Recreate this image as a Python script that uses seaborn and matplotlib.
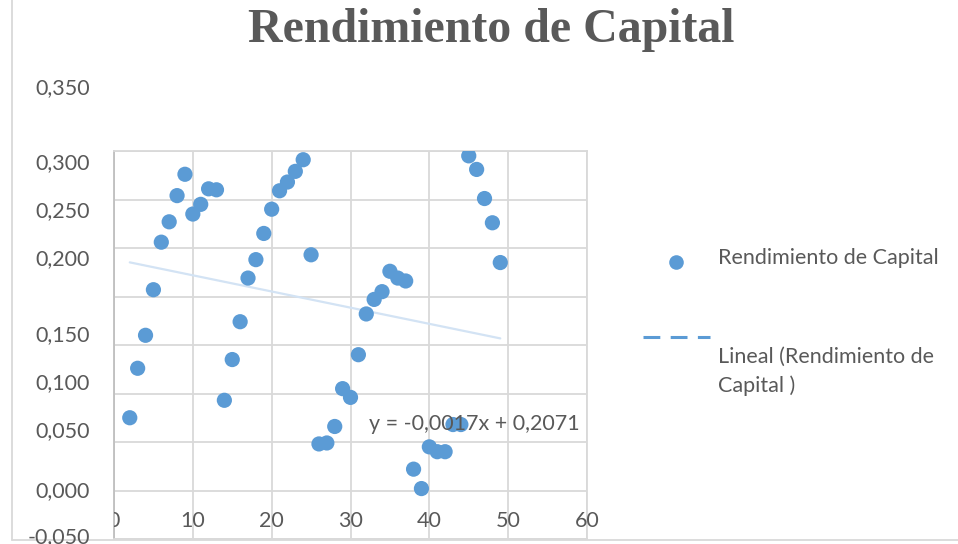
import numpy as np
import pandas as pd
import matplotlib
matplotlib.use('Agg')
import matplotlib.pyplot as plt
from matplotlib.lines import Line2D
from matplotlib.transforms import Bbox, TransformedBbox
import seaborn as sns

# ── data ─────────────────────────────────────────────────────────
periodo = list(range(2, 50))
rendimiento = [
    0.075, 0.126, 0.160, 0.207, 0.256, 0.277, 0.304, 0.326, 0.285, 0.295,
    0.311, 0.310, 0.093, 0.135, 0.174, 0.219, 0.238, 0.265, 0.290, 0.309,
    0.318, 0.329, 0.341, 0.243, 0.048, 0.049, 0.066, 0.105, 0.096, 0.140,
    0.182, 0.197, 0.205, 0.226, 0.219, 0.216, 0.022, 0.002, 0.045, 0.040,
    0.040, 0.068, 0.068, 0.345, 0.331, 0.301, 0.276, 0.235,
]
x_ticks = [0, 10, 20, 30, 40, 50, 60]
y_grid = [-0.05, 0.0, 0.05, 0.10, 0.15, 0.20, 0.25, 0.30, 0.35]
y_labels = ['0,350', '0,300', '0,250', '0,200', '0,150', '0,100', '0,050', '0,000', '-0,050']
serie = 'Rendimiento de Capital'
tendencia = 'Lineal (Rendimiento de\nCapital )'
ecuacion = 'y = -0,0017x + 0,2071'

df = pd.DataFrame({'periodo': periodo, 'rendimiento': rendimiento})

# ── style ────────────────────────────────────────────────────────
sns.set_style('white')
plt.rcParams['font.family'] = ['Lato', 'DejaVu Sans']
BLUE = '#5B9BD5'
GREY_TXT = '#595959'
GRID = '#D9D9D9'
FS = 15.5
W, H = 958, 544


def fx(px):
    return px / W


def fy(py):
    return 1 - py / H


fig = plt.figure(figsize=(W / 100, H / 100), dpi=100)
ax = fig.add_axes([fx(114), fy(539), (587 - 114) / W, (539 - 151) / H])

sns.regplot(
    data=df, x='periodo', y='rendimiento', ax=ax, ci=None,
    scatter_kws={'s': 120, 'color': BLUE, 'edgecolor': 'none', 'alpha': 1, 'zorder': 3},
    line_kws={'color': '#D3E3F4', 'lw': 1.6, 'zorder': 2},
)

ax.set_xlim(0, 60)
ax.set_ylim(-0.05, 0.35)
ax.set_xticks(x_ticks)
ax.set_yticks(y_grid)
ax.set_xticklabels([])
ax.set_yticklabels([])
ax.tick_params(length=0)
ax.set_xlabel('')
ax.set_ylabel('')
ax.grid(True, color=GRID, lw=1.3)
ax.set_axisbelow(True)
for side in ['top', 'right', 'bottom']:
    ax.spines[side].set_color(GRID)
    ax.spines[side].set_linewidth(1.3)
ax.spines['left'].set_color('#BFBFBF')
ax.spines['left'].set_linewidth(1.3)

# x labels drawn inside the plot area, like the original
clip = TransformedBbox(Bbox.from_extents(fx(114), 0, 1, 1), fig.transFigure)
for i, xv in enumerate(x_ticks):
    t = ax.text(xv, -0.05 + (539 - 521) / 970, str(xv), ha='center', va='center',
                fontsize=FS, color=GREY_TXT, clip_on=False)
    if i == 0:
        t.set_clip_on(True)
        t.set_clip_box(clip)

# y labels (misplaced as in the source picture)
y_label_rows = [88, 163, 211, 259, 335, 383, 431, 491, 537]
for lab, row in zip(y_labels, y_label_rows):
    fig.text(fx(90), fy(row), lab, ha='right', va='center', fontsize=FS, color=GREY_TXT)

# title
fig.text(fx(491), fy(30), serie, ha='center', va='center', fontsize=34.5,
         fontweight='bold', family='Liberation Serif', color=GREY_TXT)

# trend equation
fig.text(fx(369), fy(424), ecuacion, ha='left', va='center', fontsize=FS, color=GREY_TXT)

# legend
fig.add_artist(Line2D([fx(676)], [fy(262)], marker='o', ms=10.5, color=BLUE,
                      mec='none', transform=fig.transFigure))
fig.add_artist(Line2D([fx(643), fx(710)], [fy(337), fy(337)], color=BLUE, lw=2.2,
                      dashes=(5.5, 3.4), transform=fig.transFigure))
fig.text(fx(718), fy(258), serie, ha='left', va='center', fontsize=FS, color=GREY_TXT)
fig.text(fx(718), fy(347), tendencia, ha='left', va='top', fontsize=FS,
         color=GREY_TXT, linespacing=1.5)

# chart frame remnants
fig.add_artist(Line2D([fx(12), fx(12)], [fy(0), fy(540)], color=GRID, lw=1.3,
                      transform=fig.transFigure))
fig.add_artist(Line2D([fx(12), 1], [fy(540), fy(540)], color=GRID, lw=1.3,
                      transform=fig.transFigure))

fig.savefig('out.png', dpi=100)
plt.close(fig)
